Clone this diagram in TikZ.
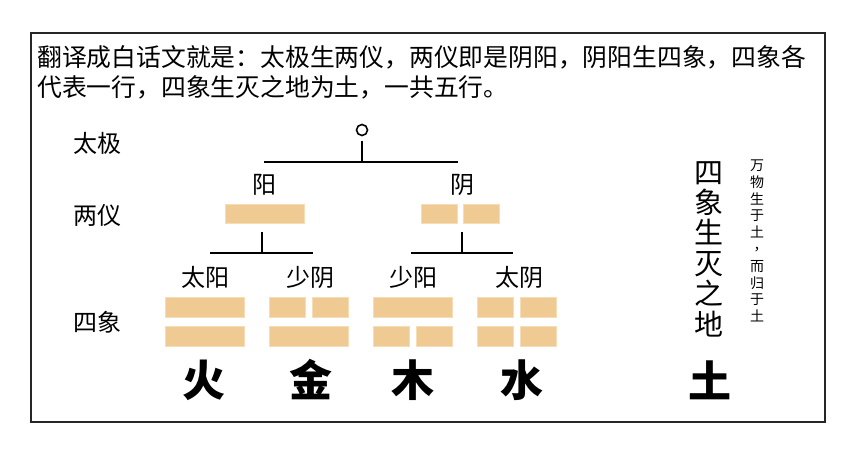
\documentclass[tikz,border=0pt]{standalone}
\usepackage{fontspec}
\setmainfont{Noto Sans CJK SC}
\newfontfamily\cjk{Noto Sans CJK SC}
\definecolor{barc}{HTML}{F0CA93}
\definecolor{barl}{HTML}{F6DDB8}
\begin{document}
\begin{tikzpicture}[x=1pt,y=-1pt,
  barbox/.style={rectangle, fill=barc, draw=barl, line width=0.6pt, inner sep=0pt, minimum height=20pt},
  full/.style={barbox, minimum width=79pt},
  half/.style={barbox, minimum width=36pt},
  lbl/.style={inner sep=0pt, font=\cjk\fontsize{24}{28}\selectfont},
  elem/.style={inner sep=0pt, font=\cjk\bfseries\fontsize{43}{46}\selectfont},
  conn/.style={line width=1.3pt, black}]
\useasboundingbox (0,0) rectangle (858,469);
\node[draw=black!85, line width=1.8pt, minimum width=794pt, minimum height=389pt, anchor=north west, inner sep=0pt] (frame) at (30,32) {};
% intro text
\node[anchor=west, inner sep=0pt, font=\cjk\fontsize{24.8}{29}\selectfont] (line1) at (37,57) {翻译成白话文就是：太极生两仪，两仪即是阴阳，阴阳生四象，四象各};
\node[anchor=west, inner sep=0pt, font=\cjk\fontsize{24.8}{29}\selectfont] (line2) at (37,87) {代表一行，四象生灭之地为土，一共五行。};
% row labels
\node[lbl] (ltaiji) at (97,143) {太极};
\node[lbl] (lliangyi) at (97,215) {两仪};
\node[lbl] (lsixiang) at (97,322) {四象};
% taiji
\node[circle, draw, line width=1.6pt, minimum size=11pt, inner sep=0pt] (taiji) at (362,130) {};
\coordinate (j1) at (362,162);
\coordinate (j1l) at (264,162);
\coordinate (j1r) at (458,162);
\draw[conn, shorten <=5pt] (taiji) -- (j1);
\draw[conn] (j1l) -- (j1r);
% yang / yin
\node[lbl] (yangl) at (264,185) {阳};
\node[lbl] (yinl) at (462,185) {阴};
\node[full, minimum height=19pt] (yang) at (265,213.5) {};
\node[half, minimum height=19pt] (yinA) at (439,213.5) {};
\node[half, minimum height=19pt] (yinB) at (481,213.5) {};
% second level connectors
\coordinate (y0) at (262,232);
\coordinate (y1) at (262,253);
\coordinate (y1l) at (210,253);
\coordinate (y1r) at (313,253);
\coordinate (n0) at (462,232);
\coordinate (n1) at (462,253);
\coordinate (n1l) at (411,253);
\coordinate (n1r) at (513,253);
\draw[conn] (y0) -- (y1);
\draw[conn] (y1l) -- (y1r);
\draw[conn] (n0) -- (n1);
\draw[conn] (n1l) -- (n1r);
% four images labels
\node[lbl] (taiyang) at (205,277) {太阳};
\node[lbl] (shaoyin) at (310,277) {少阴};
\node[lbl] (shaoyang) at (413,277) {少阳};
\node[lbl] (taiyin) at (519,277) {太阴};
% taiyang bars
\node[full] (tyA) at (204.5,307) {};
\node[full] (tyB) at (204.5,336.5) {};
% shaoyin
\node[half] (syA1) at (287,307) {};
\node[half] (syA2) at (330,307) {};
\node[full] (syB) at (308.5,336.5) {};
% shaoyang
\node[full] (sgA) at (412.5,307) {};
\node[half] (sgB1) at (391,336.5) {};
\node[half] (sgB2) at (434,336.5) {};
% taiyin
\node[half] (tnA1) at (495,307) {};
\node[half] (tnA2) at (538.5,307) {};
\node[half] (tnB1) at (495,336.5) {};
\node[half] (tnB2) at (538.5,336.5) {};
% five elements
\node[elem] (huo) at (204,380) {火};
\node[elem] (jin) at (311,380) {金};
\node[elem] (mu) at (413,380) {木};
\node[elem] (shui) at (522,380) {水};
\node[elem] (tu) at (710,380) {土};
% vertical texts
\node[inner sep=0pt, align=center, font=\cjk\fontsize{29}{30.4}\selectfont] (vbig) at (709,249) {四\\象\\生\\灭\\之\\地};
\node[inner sep=0pt, align=center, font=\cjk\fontsize{14}{16.8}\selectfont] (vsmall) at (757,241) {万\\物\\生\\于\\土\\\hspace*{0.5em}\raisebox{0.3em}{，}\\而\\归\\于\\土};
\end{tikzpicture}
\end{document}
